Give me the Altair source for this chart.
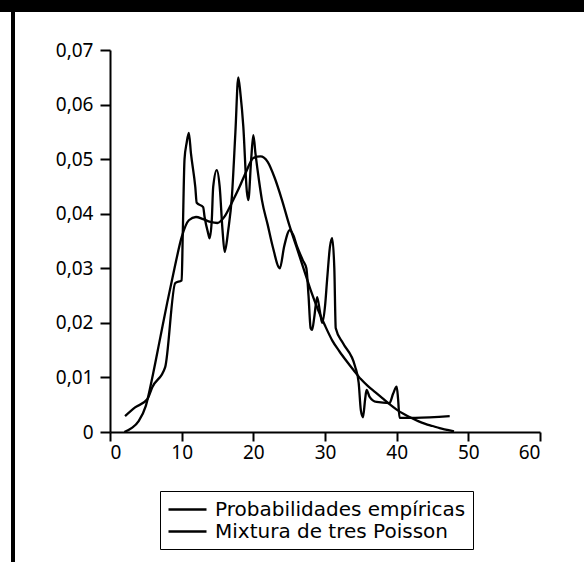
import altair as alt
import pandas as pd

emp_x = [2.1, 3.5, 5.2, 5.9, 7.7, 9.1, 10.0, 10.15, 10.4, 10.7, 11.0, 11.3, 11.9, 12.1, 13.0,
         13.2, 13.7, 13.9, 14.2, 14.4, 14.9, 15.3, 15.7, 16.0, 16.5, 17.0, 17.5, 17.9, 18.2,
         18.6, 19.1, 19.3, 19.7, 20.0, 20.3, 20.8, 21.2, 22.0, 22.7, 23.7, 24.3, 25.1, 25.6,
         26.1, 26.9, 27.4, 27.7, 28.0, 28.2, 28.5, 28.9, 29.3, 29.6, 30.0, 30.3, 30.7, 31.0,
         31.3, 31.5, 32.5, 34.2, 34.7, 35.0, 35.3, 35.6, 35.8, 36.2, 37.2, 39.0, 39.5, 40.0,
         40.2, 40.4, 42.6, 47.4]
emp_y = [0.0029, 0.0045, 0.0060, 0.0082, 0.0119, 0.0273, 0.0278, 0.0360, 0.0500, 0.0530, 0.0548,
         0.0510, 0.0449, 0.0420, 0.0412, 0.0394, 0.0364, 0.0355, 0.0388, 0.0449, 0.0480, 0.0450,
         0.0370, 0.0330, 0.0370, 0.0430, 0.0550, 0.0650, 0.0620, 0.0560, 0.0440, 0.0425, 0.0500,
         0.0544, 0.0510, 0.0460, 0.0425, 0.0380, 0.0340, 0.0300, 0.0340, 0.0370, 0.0360, 0.0340,
         0.0315, 0.0300, 0.0250, 0.0190, 0.0187, 0.0210, 0.0247, 0.0220, 0.0200, 0.0230, 0.0280,
         0.0340, 0.0355, 0.0300, 0.0190, 0.0163, 0.0120, 0.0090, 0.0040, 0.0027, 0.0060, 0.0077,
         0.0065, 0.0055, 0.0053, 0.0070, 0.0083, 0.0060, 0.0026, 0.0026, 0.0029]

# Mixture of three Poisson distributions
mix_x = list(range(2, 49))
mix_y = [0.0000, 0.0007, 0.0020, 0.0048, 0.0106, 0.0172, 0.0238, 0.0300, 0.0357, 0.0388,
         0.0394, 0.0390, 0.0385, 0.0383, 0.0395, 0.0420, 0.0447, 0.0477, 0.0502, 0.0505,
         0.0495, 0.0465, 0.0425, 0.0380, 0.0340, 0.0300, 0.0260, 0.0225, 0.0195, 0.0168,
         0.0148, 0.0130, 0.0113, 0.0097, 0.0084, 0.0073, 0.0062, 0.0051, 0.0041, 0.0033,
         0.0026, 0.0020, 0.0015, 0.0011, 0.0007, 0.0004, 0.0001]

series = ["Probabilidades empíricas", "Mixtura de tres Poisson"]

df = pd.concat([
    pd.DataFrame({"x": emp_x, "y": emp_y, "serie": series[0], "o": range(len(emp_x))}),
    pd.DataFrame({"x": mix_x, "y": mix_y, "serie": series[1], "o": range(len(mix_x))}),
])

FONT = "Noto Sans"

lines = alt.Chart(df).mark_line(interpolate="monotone", strokeWidth=2.3).encode(
    x=alt.X("x:Q", scale=alt.Scale(domain=[0, 60], nice=False),
            axis=alt.Axis(values=[0, 10, 20, 30, 40, 50, 60], title=None, grid=False,
                          tickSize=9, tickWidth=2, domainWidth=2, domainColor="black",
                          tickColor="black", labelFontSize=19, labelFont=FONT,
                          labelColor="black", labelPadding=2)),
    y=alt.Y("y:Q", scale=alt.Scale(domain=[0, 0.07], nice=False),
            axis=alt.Axis(values=[0, 0.01, 0.02, 0.03, 0.04, 0.05, 0.06, 0.07], title=None,
                          grid=False, tickSize=10, tickWidth=2, domainWidth=2,
                          domainColor="black", tickColor="black", labelFontSize=19,
                          labelFont=FONT, labelColor="black", labelPadding=7,
                          labelExpr="datum.value == 0 ? '0' : replace(format(datum.value, '.2f'), '.', ',')")),
    color=alt.Color("serie:N", scale=alt.Scale(domain=series, range=["black", "black"]),
                    legend=alt.Legend(title=None, orient="none", legendX=50, legendY=441,
                                      symbolType="M-1,0L2.8,0", symbolSize=400,
                                      symbolStrokeWidth=2.3, labelFontSize=20,
                                      labelFont="DejaVu Sans",
                                      labelColor="black", labelLimit=400, strokeColor="black",
                                      padding=7, rowPadding=0, labelOffset=25)),
    order="o:Q",
    detail="serie:N",
)

top_band = alt.Chart(df).mark_rule(color="black", strokeWidth=12).encode(
    x=alt.value(-110), x2=alt.value(474), y=alt.value(-44))
left_line = alt.Chart(df).mark_rule(color="black", strokeWidth=3).encode(
    x=alt.value(-97), y=alt.value(-40), y2=alt.value(512))

chart = alt.layer(lines, top_band, left_line).properties(
    width=430, height=382,
    autosize=alt.AutoSizeParams(type="none"),
    padding={"left": 110, "top": 50, "right": 44, "bottom": 130},
    background="white",
).configure_view(strokeWidth=0)

chart.save("out.html", embed_options={"renderer": "svg", "actions": False})
